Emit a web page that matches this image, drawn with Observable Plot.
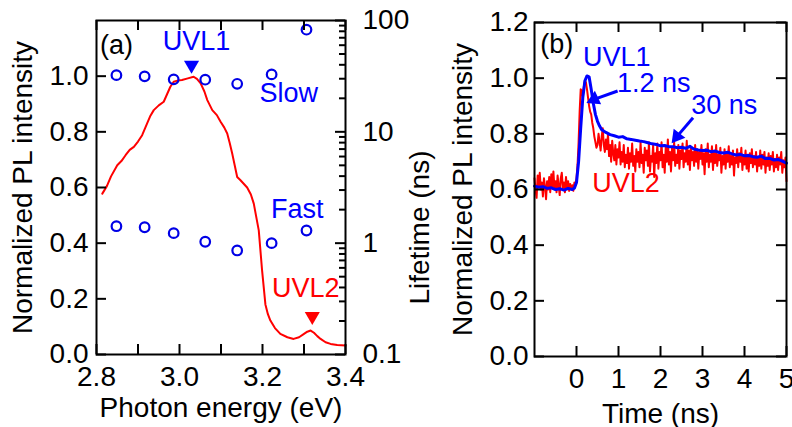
<!DOCTYPE html>
<html><head><meta charset="utf-8">
<script src="https://cdn.jsdelivr.net/npm/d3@7"></script>
<script src="https://cdn.jsdelivr.net/npm/@observablehq/plot@0.6"></script>
<style>
body{margin:0;background:#fff;}
#wrap{display:flex;width:792px;height:427px;overflow:hidden;}
</style></head><body><div id="wrap"></div>
<script>
// ---------- Panel (a): PL spectrum and lifetimes ----------
const specEnergy = [2.814,2.825,2.835,2.850,2.860,2.870,2.880,2.890,2.900,2.910,2.922,2.930,2.938,2.950,2.962,2.970,2.978,2.986,2.995,3.006,3.020,3.034,3.042,3.051,3.060,3.067,3.079,3.090,3.099,3.108,3.115,3.121,3.127,3.133,3.139,3.147,3.163,3.172,3.179,3.191,3.199,3.207,3.213,3.219,3.230,3.243,3.260,3.275,3.288,3.300,3.308,3.316,3.324,3.332,3.340,3.352,3.364,3.380,3.400];
const specIntensity = [0.578,0.605,0.640,0.680,0.695,0.716,0.735,0.746,0.765,0.788,0.830,0.858,0.878,0.895,0.908,0.935,0.962,0.980,0.984,0.986,0.992,0.998,0.990,0.974,0.945,0.914,0.878,0.860,0.836,0.815,0.794,0.760,0.722,0.680,0.638,0.626,0.600,0.575,0.542,0.446,0.302,0.180,0.145,0.122,0.095,0.074,0.062,0.056,0.062,0.074,0.082,0.086,0.078,0.066,0.056,0.044,0.038,0.034,0.032];
const lifeEnergy = [2.848,2.916,2.986,3.062,3.139,3.222,3.306];
const slowLifetime = [32.3,31.5,29.6,29.4,27.0,32.8,82.7];
const fastLifetime = [1.42,1.39,1.23,1.03,0.86,1.00,1.30];
const energyTicks = [2.8,2.9,3.0,3.1,3.2,3.3,3.4];
const energyLabels = [2.8,3.0,3.2,3.4];
const intensityTicksA = [0,0.2,0.4,0.6,0.8,1.0];
const lifetimeMajor = [0.1,1,10,100];
const lifetimeMinor = [0.2,0.3,0.4,0.5,0.6,0.7,0.8,0.9,2,3,4,5,6,7,8,9,20,30,40,50,60,70,80,90];
const annotA = [
  {text:"(a)", x:2.848, y:1.111, color:"black"},
  {text:"UVL1", x:3.041, y:1.126, color:"#0000ff"},
  {text:"Slow", x:3.263, y:0.939, color:"#0000ff"},
  {text:"Fast", x:3.284, y:0.523, color:"#0000ff"},
  {text:"UVL2", x:3.304, y:0.239, color:"#ff0000"}
];
const markersA = [
  {x:3.029, y:1.04, color:"#0000ff"},
  {x:3.320, y:0.137, color:"#ff0000"}
];

// ---------- Panel (b): time-resolved PL ----------
const blueT = [-1.0,-0.9,-0.8,-0.7,-0.6,-0.5,-0.4,-0.3,-0.2,-0.1,-0.05,0.0,0.05,0.10,0.15,0.20,0.25,0.30,0.35,0.40,0.45,0.50,0.55,0.6,0.7,0.8,0.9,1.0,1.1,1.2,1.3,1.4,1.5,1.6,1.7,1.8,1.9,2.0,2.1,2.2,2.3,2.4,2.5,2.6,2.7,2.8,2.9,3.0,3.1,3.2,3.3,3.4,3.5,3.6,3.7,3.8,3.9,4.0,4.1,4.2,4.3,4.4,4.5,4.6,4.7,4.8,4.9,5.0];
const blueV = [0.612,0.608,0.610,0.604,0.606,0.600,0.603,0.598,0.604,0.600,0.605,0.625,0.700,0.820,0.930,0.990,1.008,1.005,0.960,0.910,0.870,0.845,0.828,0.815,0.805,0.797,0.793,0.788,0.790,0.782,0.780,0.777,0.774,0.772,0.768,0.764,0.762,0.757,0.758,0.754,0.754,0.750,0.752,0.748,0.755,0.745,0.742,0.740,0.741,0.736,0.738,0.733,0.731,0.734,0.728,0.724,0.726,0.721,0.722,0.718,0.716,0.720,0.711,0.712,0.706,0.708,0.702,0.695];
// [time (ns), intensity]
const redTrace = [
[-1.000,0.640],[-0.975,0.600],[-0.950,0.570],[-0.925,0.650],[-0.900,0.615],[-0.875,0.660],[-0.850,0.600],[-0.825,0.625],[-0.800,0.575],[-0.775,0.640],
[-0.750,0.610],[-0.725,0.565],[-0.700,0.630],[-0.675,0.600],[-0.650,0.645],[-0.625,0.590],[-0.600,0.655],[-0.575,0.610],[-0.550,0.665],[-0.525,0.605],
[-0.500,0.630],[-0.475,0.590],[-0.450,0.650],[-0.425,0.615],[-0.400,0.580],[-0.375,0.640],[-0.350,0.660],[-0.325,0.605],[-0.300,0.625],[-0.275,0.590],
[-0.250,0.645],[-0.225,0.600],[-0.200,0.630],[-0.175,0.595],[-0.150,0.620],[-0.125,0.600],[-0.100,0.615],[-0.075,0.595],[-0.050,0.625],[-0.025,0.615],
[0.000,0.640],[0.025,0.690],[0.050,0.770],[0.075,0.880],[0.100,0.960],[0.125,0.955],[0.150,0.930],[0.175,0.970],[0.200,0.990],[0.225,0.985],
[0.250,0.960],[0.275,0.930],[0.300,0.900],[0.325,0.880],[0.350,0.870],[0.375,0.840],[0.400,0.820],[0.425,0.790],[0.450,0.770],[0.475,0.750],
[0.500,0.760],[0.525,0.800],[0.550,0.770],[0.575,0.740],[0.600,0.790],[0.625,0.820],[0.650,0.760],[0.675,0.735],[0.700,0.780],[0.725,0.745],
[0.750,0.800],[0.775,0.720],[0.800,0.760],[0.825,0.700],[0.850,0.775],[0.875,0.730],[0.900,0.705],[0.925,0.760],[0.950,0.690],[0.975,0.745],
[1.000,0.715],[1.025,0.770],[1.050,0.690],[1.075,0.735],[1.100,0.700],[1.125,0.760],[1.150,0.680],[1.175,0.725],[1.200,0.695],[1.225,0.750],
[1.250,0.675],[1.275,0.730],[1.300,0.700],[1.325,0.765],[1.350,0.685],[1.375,0.720],[1.400,0.665],[1.425,0.745],[1.450,0.700],[1.475,0.735],
[1.500,0.680],[1.525,0.770],[1.550,0.695],[1.575,0.725],[1.600,0.660],[1.625,0.750],[1.650,0.705],[1.675,0.740],[1.700,0.685],[1.725,0.770],
[1.750,0.665],[1.775,0.720],[1.800,0.700],[1.825,0.760],[1.850,0.645],[1.875,0.730],[1.900,0.695],[1.925,0.765],[1.950,0.675],[1.975,0.735],
[2.000,0.705],[2.025,0.770],[2.050,0.680],[2.075,0.725],[2.100,0.660],[2.125,0.755],[2.150,0.700],[2.175,0.780],[2.200,0.690],[2.225,0.735],
[2.250,0.665],[2.275,0.750],[2.300,0.705],[2.325,0.770],[2.350,0.685],[2.375,0.725],[2.400,0.695],[2.425,0.760],[2.450,0.675],[2.475,0.740],
[2.500,0.710],[2.525,0.765],[2.550,0.680],[2.575,0.730],[2.600,0.700],[2.625,0.775],[2.650,0.690],[2.675,0.740],[2.700,0.670],[2.725,0.750],
[2.750,0.705],[2.775,0.735],[2.800,0.685],[2.825,0.760],[2.850,0.700],[2.875,0.745],[2.900,0.675],[2.925,0.735],[2.950,0.710],[2.975,0.760],
[3.000,0.690],[3.025,0.730],[3.050,0.655],[3.075,0.745],[3.100,0.700],[3.125,0.765],[3.150,0.680],[3.175,0.725],[3.200,0.700],[3.225,0.755],
[3.250,0.670],[3.275,0.735],[3.300,0.695],[3.325,0.760],[3.350,0.685],[3.375,0.725],[3.400,0.705],[3.425,0.750],[3.450,0.660],[3.475,0.720],
[3.500,0.690],[3.525,0.745],[3.550,0.675],[3.575,0.735],[3.600,0.700],[3.625,0.755],[3.650,0.680],[3.675,0.720],[3.700,0.690],[3.725,0.740],
[3.750,0.650],[3.775,0.715],[3.800,0.695],[3.825,0.745],[3.850,0.680],[3.875,0.730],[3.900,0.700],[3.925,0.750],[3.950,0.670],[3.975,0.720],
[4.000,0.690],[4.025,0.740],[4.050,0.675],[4.075,0.725],[4.100,0.665],[4.125,0.730],[4.150,0.695],[4.175,0.745],[4.200,0.680],[4.225,0.720],
[4.250,0.690],[4.275,0.735],[4.300,0.665],[4.325,0.715],[4.350,0.685],[4.375,0.740],[4.400,0.675],[4.425,0.725],[4.450,0.690],[4.475,0.735],
[4.500,0.660],[4.525,0.715],[4.550,0.685],[4.575,0.730],[4.600,0.670],[4.625,0.720],[4.650,0.690],[4.675,0.735],[4.700,0.665],[4.725,0.710],
[4.750,0.680],[4.775,0.725],[4.800,0.670],[4.825,0.715],[4.850,0.690],[4.875,0.735],[4.900,0.660],[4.925,0.705],[4.950,0.680],[4.975,0.715],
[5.000,0.630]
];
const timeTicks = [0,1,2,3,4,5];
const intensityTicksB = [0,0.2,0.4,0.6,0.8,1.0,1.2];
const annotB = [
  {text:"(b)", x:-0.47, y:1.123, color:"black"},
  {text:"UVL1", x:0.96, y:1.076, color:"#0000ff"},
  {text:"1.2 ns", x:1.84, y:0.983, color:"#0000ff"},
  {text:"30 ns", x:3.52, y:0.904, color:"#0000ff"},
  {text:"UVL2", x:1.18, y:0.622, color:"#ff0000"}
];
const arrowsB = [
  {x1:0.979, y1:0.954, x2:0.42, y2:0.924, rot:245},
  {x1:2.775, y1:0.858, x2:2.39, y2:0.79, rot:218}
];

const FONT = "'Liberation Sans', Arial, Helvetica, sans-serif";
const BLUE = "#0000ff", RED = "#ff0000";

// map lifetime (0.1..100, log) onto the left intensity range 0..1.2
const lt = v => (Math.log10(v) + 1) / 3 * 1.2;
const ltLabel = d => { const m = lifetimeMajor.find(v => Math.abs(lt(v) - d) < 1e-9); return m === undefined ? "" : String(m); };

// inward tick marks drawn as short tick marks hugging the frame edges
const tickL = (vals, len, fw) => Plot.tickY(vals, {y: d => d, insetRight: fw - len, stroke: "black", strokeWidth: 2});
const tickR = (vals, len, fw) => Plot.tickY(vals, {y: d => d, insetLeft: fw - len, stroke: "black", strokeWidth: 2});
const tickB = (vals, len, fh) => Plot.tickX(vals, {x: d => d, insetTop: fh - len, stroke: "black", strokeWidth: 2});
const tickT = (vals, len, fh) => Plot.tickX(vals, {x: d => d, insetBottom: fh - len, stroke: "black", strokeWidth: 2});

const spectrum = specEnergy.map((e, i) => ({e, v: specIntensity[i]}));
const slow = lifeEnergy.map((e, i) => ({e, y: lt(slowLifetime[i])}));
const fast = lifeEnergy.map((e, i) => ({e, y: lt(fastLifetime[i])}));

const A = {width: 440, height: 427, ml: 96, mr: 95, mt: 20, mb: 73};
const FWA = A.width - A.ml - A.mr, FHA = A.height - A.mt - A.mb;

const plotA = Plot.plot({
  width: A.width, height: A.height,
  marginLeft: A.ml, marginRight: A.mr, marginTop: A.mt, marginBottom: A.mb,
  x: {domain: [2.8, 3.4]},
  y: {domain: [0, 1.2]},
  style: {fontFamily: FONT, fontSize: "28px", color: "black", background: "white"},
  marks: [
    Plot.axisX(energyLabels, {anchor: "bottom", tickSize: 0, tickPadding: 12,
      tickFormat: d => d.toFixed(1),
      label: "Photon energy (eV)", labelAnchor: "center", labelArrow: "none", labelOffset: 62}),
    Plot.axisY(intensityTicksA, {anchor: "left", tickSize: 0, tickPadding: 8,
      tickFormat: d => d.toFixed(1),
      label: "Normalized PL intensity", labelAnchor: "center", labelArrow: "none", labelOffset: 84}),
    Plot.axisY(lifetimeMajor.map(lt), {anchor: "right", tickSize: 0, tickPadding: 17, tickFormat: ltLabel, label: null}),
    Plot.text(["Lifetime (ns)"], {frameAnchor: "right", rotate: -90, dx: 75, dy: -37, fontSize: 28, fill: "black"}),
    Plot.line(spectrum, {x: "e", y: "v", stroke: RED, strokeWidth: 2}),
    Plot.dot(slow, {x: "e", y: "y", r: 4.8, stroke: "#0000e6", strokeWidth: 2.2, fill: "none"}),
    Plot.dot(fast, {x: "e", y: "y", r: 4.8, stroke: "#0000e6", strokeWidth: 2.2, fill: "none"}),
    Plot.dot(markersA, {x: "x", y: "y", symbol: "triangle", rotate: 180, r: 5.6, fill: "color", stroke: null}),
    Plot.text(annotA, {x: "x", y: "y", text: "text", fill: "color", fontSize: 27}),
    Plot.frame({stroke: "black", strokeWidth: 2}),
    tickB(energyTicks, 10, FHA),
    tickT(energyTicks, 10, FHA),
    tickL(intensityTicksA, 10, FWA),
    tickR(lifetimeMajor.map(lt), 10, FWA),
    tickR(lifetimeMinor.map(lt), 6, FWA)
  ]
});

const blue = blueT.map((t, i) => ({t, v: blueV[i]}));
const red = redTrace.map(([t, v]) => ({t, v}));

const B = {width: 352, height: 427, ml: 94, mr: 6, mt: 22, mb: 71};
const FWB = B.width - B.ml - B.mr, FHB = B.height - B.mt - B.mb;

const plotB = Plot.plot({
  width: B.width, height: B.height,
  marginLeft: B.ml, marginRight: B.mr, marginTop: B.mt, marginBottom: B.mb,
  x: {domain: [-1, 5]},
  y: {domain: [0, 1.2]},
  style: {fontFamily: FONT, fontSize: "28px", color: "black", background: "white"},
  marks: [
    Plot.axisX(timeTicks, {anchor: "bottom", tickSize: 0, tickPadding: 12,
      tickFormat: d => String(d),
      label: "Time (ns)", labelAnchor: "center", labelArrow: "none", labelOffset: 66}),
    Plot.axisY(intensityTicksB, {anchor: "left", tickSize: 0, tickPadding: 6,
      tickFormat: d => d.toFixed(1),
      label: "Normalized PL intensity", labelAnchor: "center", labelArrow: "none", labelOffset: 82}),
    Plot.line(red, {x: "t", y: "v", stroke: RED, strokeWidth: 2}),
    Plot.line(blue, {x: "t", y: "v", stroke: BLUE, strokeWidth: 3}),
    Plot.link(arrowsB, {x1: "x1", y1: "y1", x2: "x2", y2: "y2", stroke: BLUE, strokeWidth: 3}),
    Plot.dot(arrowsB, {x: "x2", y: "y2", symbol: "triangle", rotate: "rot", r: 5.5, fill: BLUE, stroke: null}),
    Plot.text(annotB, {x: "x", y: "y", text: "text", fill: "color", fontSize: 27}),
    Plot.frame({stroke: "black", strokeWidth: 2}),
    tickB(timeTicks, 10, FHB),
    tickT(timeTicks, 10, FHB),
    tickL(intensityTicksB, 10, FWB),
    tickR(intensityTicksB, 10, FWB)
  ]
});

const wrap = document.getElementById("wrap");
wrap.appendChild(plotA);
wrap.appendChild(plotB);
</script>
</body></html>
